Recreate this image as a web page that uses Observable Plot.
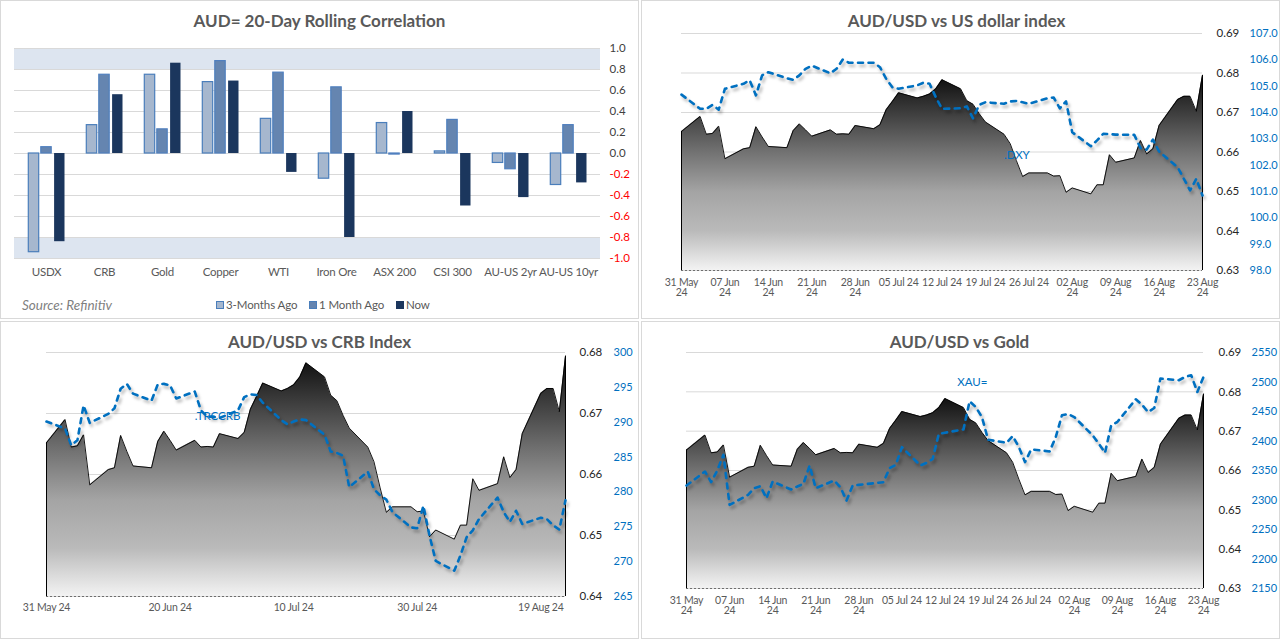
<!DOCTYPE html>
<html>
<head>
<meta charset="utf-8">
<script src="https://cdn.jsdelivr.net/npm/d3@7"></script>
<script src="https://cdn.jsdelivr.net/npm/@observablehq/plot@0.6"></script>
<style>
  body { margin: 0; background: #fff; font-family: Lato, "Open Sans", sans-serif; }
  .panel { position: absolute; border: 1px solid #d9d9d9; box-sizing: border-box; background: #fff; overflow: hidden; }
  .panel svg { position: absolute; left: -1px; top: -1px; max-width: none !important; background: transparent !important; }
  .title { position: absolute; top: 9px; width: 639px; text-align: center; font-weight: 700; font-size: 17px; line-height: 22px; color: #595959; white-space: nowrap; }
  .legend { position: absolute; top: 296px; font-size: 11.5px; color: #595959; line-height: 16px; white-space: nowrap; letter-spacing: -0.1px; }
  .sw { position: absolute; top: 4px; width: 8px; height: 8px; box-sizing: border-box; }
  .source { position: absolute; left: 21px; top: 295px; font-style: italic; font-size: 13.5px; color: #7f7f7f; line-height: 18px; }
  g[aria-label="x-axis tick label"] { letter-spacing: -0.25px; }
</style>
</head>
<body>
<div id="p1" class="panel" style="left:0;top:0;width:639px;height:319px">
  <div class="title" style="left:-1px">AUD= 20-Day Rolling Correlation</div>
  <div class="source">Source: Refinitiv</div>
  <div class="legend" style="left:0;width:639px">
    <span class="sw" style="left:215px;background:#a6b7ce;border:1px solid #4a7ebb"></span><span style="position:absolute;left:225px">3-Months Ago</span>
    <span class="sw" style="left:308px;background:#6585b0;border:1px solid #4a7ebb"></span><span style="position:absolute;left:318px">1 Month Ago</span>
    <span class="sw" style="left:395px;background:#1b365d"></span><span style="position:absolute;left:405px">Now</span>
  </div>
</div>
<div id="p2" class="panel" style="left:641px;top:0;width:639px;height:319px">
  <div class="title" style="left:-5px">AUD/USD vs US dollar index</div>
</div>
<div id="p3" class="panel" style="left:0;top:321px;width:639px;height:318px">
  <div class="title" style="left:-1px">AUD/USD vs CRB Index</div>
</div>
<div id="p4" class="panel" style="left:641px;top:321px;width:639px;height:318px">
  <div class="title" style="left:-2px">AUD/USD vs Gold</div>
</div>
<script>
// ---------------- Bar chart data ----------------
const categories = ["USDX","CRB","Gold","Copper","WTI","Iron Ore","ASX 200","CSI 300","AU-US 2yr","AU-US 10yr"];
const threeMonthsAgo = [-0.94, 0.27, 0.75, 0.68, 0.33, -0.24, 0.29, 0.02, -0.09, -0.30];
const oneMonthAgo    = [ 0.06, 0.75, 0.23, 0.88, 0.77,  0.63, -0.01, 0.32, -0.15, 0.27];
const nowCorr        = [-0.84, 0.56, 0.86, 0.69, -0.18, -0.80, 0.40, -0.50, -0.42, -0.28];
const corrTicks = [-1.0,-0.8,-0.6,-0.4,-0.2,0.0,0.2,0.4,0.6,0.8,1.0];
const corrBands = [[0.8, 1.0], [-1.0, -0.8]];

// ---------------- Time series data ----------------
const dates = [
 "2024-05-31",
 "2024-06-03","2024-06-04","2024-06-05","2024-06-06","2024-06-07",
 "2024-06-10","2024-06-11","2024-06-12","2024-06-13","2024-06-14",
 "2024-06-17","2024-06-18","2024-06-19","2024-06-20","2024-06-21",
 "2024-06-24","2024-06-25","2024-06-26","2024-06-27","2024-06-28",
 "2024-07-01","2024-07-02","2024-07-03","2024-07-04","2024-07-05",
 "2024-07-08","2024-07-09","2024-07-10","2024-07-11","2024-07-12",
 "2024-07-15","2024-07-16","2024-07-17","2024-07-18","2024-07-19",
 "2024-07-22","2024-07-23","2024-07-24","2024-07-25","2024-07-26",
 "2024-07-29","2024-07-30","2024-07-31","2024-08-01","2024-08-02",
 "2024-08-05","2024-08-06","2024-08-07","2024-08-08","2024-08-09",
 "2024-08-12","2024-08-13","2024-08-14","2024-08-15","2024-08-16",
 "2024-08-19","2024-08-20","2024-08-21","2024-08-22","2024-08-23"
];
const audusd = [
 0.6652,
 0.6690,0.6645,0.6647,0.6665,0.6583,
 0.6608,0.6611,0.6664,0.6638,0.6614,
 0.6611,0.6654,0.6671,0.6656,0.6640,
 0.6656,0.6645,0.6646,0.6645,0.6667,
 0.6659,0.6669,0.6707,0.6728,0.6750,
 0.6737,0.6741,0.6747,0.6760,0.6783,
 0.6760,0.6730,0.6721,0.6697,0.6676,
 0.6645,0.6621,0.6578,0.6538,0.6547,
 0.6547,0.6539,0.6540,0.6498,0.6509,
 0.6494,0.6517,0.6517,0.6593,0.6574,
 0.6585,0.6629,0.6595,0.6608,0.6667,
 0.6733,0.6741,0.6741,0.6703,0.6794
];
const dxy = [
 104.68,
 104.14,104.14,104.29,104.11,104.90,
 105.09,105.22,104.65,105.41,105.53,
 105.30,105.24,105.41,105.66,105.78,
 105.49,105.66,106.01,105.89,105.89,
 105.89,105.72,105.28,104.96,104.90,
 105.03,105.13,105.09,104.58,104.14,
 104.16,104.23,103.78,104.29,104.39,
 104.33,104.42,104.44,104.39,104.33,
 104.54,104.57,104.16,104.42,103.25,
 102.72,102.94,103.19,103.18,103.16,
 103.15,102.65,102.59,102.97,102.52,
 101.92,101.48,101.04,101.48,100.85
];
const crb = [
 290.1,
 289.1,286.7,287.4,292.4,289.9,
 291.2,292.0,294.8,295.5,294.1,
 293.1,295.4,295.5,295.3,293.4,
 294.4,291.7,290.8,290.8,290.6,
 291.7,293.6,294.0,293.9,292.8,
 290.3,289.7,290.1,290.4,290.3,
 288.2,285.8,285.6,285.2,280.7,
 282.9,280.4,279.5,278.9,277.1,
 274.9,274.8,278.0,273.7,270.1,
 268.7,270.9,273.5,274.5,276.1,
 279.2,277.1,275.7,277.3,275.4,
 276.3,276.1,275.2,274.6,278.8
];
const gold = [
 2324.5,
 2348.3,2330.2,2350.0,2376.6,2291.6,
 2308.6,2320.0,2323.4,2303.0,2331.3,
 2317.7,2322.8,2327.3,2358.5,2320.0,
 2333.0,2321.7,2299.0,2324.5,2325.6,
 2329.0,2330.2,2354.0,2359.6,2389.6,
 2358.5,2363.0,2369.8,2412.3,2414.0,
 2419.7,2467.3,2457.6,2440.6,2402.1,
 2397.0,2408.4,2389.7,2364.2,2385.7,
 2382.3,2406.7,2443.5,2445.7,2440.6,
 2409.5,2395.3,2380.0,2426.5,2432.2,
 2470.7,2461.6,2449.1,2456.0,2505.8,
 2503.0,2508.6,2511.5,2483.1,2508.6
];

// axis ticks
const weeklyTicks = ["2024-05-31","2024-06-07","2024-06-14","2024-06-21","2024-06-28","2024-07-05","2024-07-12","2024-07-19","2024-07-26","2024-08-02","2024-08-09","2024-08-16","2024-08-23"];
const crbDateTicks = ["2024-05-31","2024-06-20","2024-07-10","2024-07-30","2024-08-19"];
const audTicksWide = [0.63,0.64,0.65,0.66,0.67,0.68,0.69];
const audTicksCrb = [0.64,0.65,0.66,0.67,0.68];
const dxyTicks = [98,99,100,101,102,103,104,105,106,107];
const crbTicks = [265,270,275,280,285,290,295,300];
const goldTicks = [2150,2200,2250,2300,2350,2400,2450,2500,2550];

// series labels (annotation anchors in data space)
const dxyLabel = {date: "2024-07-22", value: 0.6591, text: ".DXY"};
const crbLabel = {date: "2024-06-24", value: 0.6695, text: ".TRCCRB"};
const goldLabel = {date: "2024-07-14", value: 0.6824, text: "XAU="};

const gradStops = [[0, "#0b0b0b"], [0.38, "#6e6e6e"], [0.6, "#a4a4a4"], [0.8, "#bababa"], [1, "#f3f3f3"]];
const BLUE = "#0070c0";
const baseStyle = {fontFamily: "Lato, 'Open Sans', sans-serif", fontSize: "11px", color: "#404040", background: "transparent", overflow: "visible"};

// ---------------- Bar chart ----------------
function rowsOf(series) { return categories.map((c, i) => ({cat: c, v: series[i]})); }
const bar = Plot.plot({
  width: 639, height: 292,
  marginLeft: 14, marginRight: 39, marginTop: 48, marginBottom: 34,
  style: baseStyle,
  x: {type: "band", domain: categories, padding: 0},
  y: {domain: [-1, 1]},
  marks: [
    Plot.rectY(corrBands, {y1: d => d[0], y2: d => d[1], fill: "#dde5f0"}),
    Plot.gridY({ticks: corrTicks, stroke: "#d9d9d9", strokeOpacity: 1}),
    Plot.barY(rowsOf(threeMonthsAgo), {x: "cat", y: "v", fill: "#a6b7ce", stroke: "#4a7ebb", strokeWidth: 1.2, insetLeft: 11.3, insetRight: 36.3}),
    Plot.barY(rowsOf(oneMonthAgo), {x: "cat", y: "v", fill: "#6585b0", stroke: "#4f7fbf", strokeWidth: 1.2, insetLeft: 23.8, insetRight: 23.8}),
    Plot.barY(rowsOf(nowCorr), {x: "cat", y: "v", fill: "#1b365d", insetLeft: 37.1, insetRight: 10.5}),
    Plot.axisY({ticks: corrTicks.filter(t => t >= 0), anchor: "right", tickSize: 0, tickPadding: 9, tickFormat: d => d.toFixed(1), color: "#404040", fontSize: 11.5, label: null}),
    Plot.axisY({ticks: corrTicks.filter(t => t < 0), anchor: "right", tickSize: 0, tickPadding: 9, tickFormat: d => d.toFixed(1), color: "#ff0000", fontSize: 11.5, label: null}),
    Plot.axisX({tickSize: 0, tickPadding: 9, color: "#595959", fontSize: 11.5, label: null})
  ]
});
document.getElementById("p1").appendChild(bar);

// ---------------- Line panels ----------------
function gradientDef(id) {
  return () => {
    const ns = "http://www.w3.org/2000/svg";
    const defs = document.createElementNS(ns, "defs");
    const g = document.createElementNS(ns, "linearGradient");
    g.setAttribute("id", id);
    g.setAttribute("x1", "0"); g.setAttribute("y1", "0");
    g.setAttribute("x2", "0"); g.setAttribute("y2", "1");
    for (const [o, c] of gradStops) {
      const s = document.createElementNS(ns, "stop");
      s.setAttribute("offset", o); s.setAttribute("stop-color", c);
      g.appendChild(s);
    }
    defs.appendChild(g);
    return defs;
  };
}
const fDM = d3.utcFormat("%d %b"), fY = d3.utcFormat("%y"), fM = d3.utcFormat("%b");
const twoLine = d => fM(d) === "Jul" ? fDM(d) + " " + fY(d) : fDM(d) + "\n" + fY(d);
const oneLine = d => fDM(d) + " " + fY(d);

function linePanel(o) {
  const rows = dates.map((d, i) => ({date: new Date(d), aud: audusd[i], sec: o.sec[i]}));
  const toP = d3.scaleLinear().domain([o.secLo, o.secHi]).range([o.lo, o.hi]);
  const ends = [rows[0], rows[rows.length - 1]];
  const chart = Plot.plot({
    width: 639, height: o.H,
    marginLeft: o.mL, marginRight: o.mR, marginTop: o.mT, marginBottom: o.mB,
    style: baseStyle,
    x: {type: "utc", domain: [rows[0].date, rows[rows.length - 1].date]},
    y: {domain: [o.lo, o.hi]},
    marks: [
      gradientDef(o.gradId),
      Plot.gridY({ticks: o.audTicks, stroke: "#d9d9d9", strokeOpacity: 1}),
      Plot.areaY(rows, {x: "date", y1: o.lo, y2: "aud", fill: `url(#${o.gradId})`}),
      Plot.lineY(rows, {x: "date", y: "aud", stroke: "#000", strokeWidth: 0.9}),
      Plot.ruleX(ends, {x: "date", y1: o.lo, y2: "aud", stroke: "#000", strokeWidth: 1}),
      Plot.ruleY([o.lo], {stroke: "#6f6f6f", strokeDasharray: "2,2"}),
      Plot.lineY(rows, {x: "date", y: d => toP(d.sec), stroke: BLUE, strokeWidth: 2.6, strokeDasharray: "5,5.5", strokeLinecap: "round", strokeLinejoin: "round"}),
      Plot.text([o.label], {x: d => new Date(d.date), y: "value", text: "text", fill: BLUE, textAnchor: "start", fontSize: 11.5}),
      Plot.axisY({ticks: o.audTicks, anchor: "right", tickSize: 0, tickPadding: o.padA, tickFormat: d => d.toFixed(2), color: "#262626", fontSize: 11.5, label: null}),
      Plot.axisY({ticks: o.secTicks.map(t => toP(t)), anchor: "right", tickSize: 0, tickPadding: o.padS, tickFormat: v => o.secFmt(toP.invert(v)), color: BLUE, fontSize: 11, label: null}),
      Plot.axisX({ticks: o.xTicks.map(d => new Date(d)), tickSize: 0, tickPadding: o.padX, tickFormat: o.xFmt, color: "#595959", fontSize: 10.5, label: null})
    ]
  });
  chart.querySelectorAll("[stroke-dasharray]").forEach(el => {
    if (el.getAttribute("stroke") === BLUE) el.style.filter = "drop-shadow(2px 3px 1.5px rgba(0,0,0,0.28))";
  });
  document.getElementById(o.el).appendChild(chart);
}

linePanel({el: "p2", H: 310, mL: 40, mR: 78, mT: 33, mB: 40, lo: 0.63, hi: 0.69, audTicks: audTicksWide,
  sec: dxy, secLo: 98, secHi: 107, secTicks: dxyTicks, secFmt: v => v.toFixed(1),
  xTicks: weeklyTicks, xFmt: twoLine, gradId: "gradDxy", label: dxyLabel, padA: 14, padS: 47, padX: 8});

linePanel({el: "p3", H: 310, mL: 46, mR: 74, mT: 31, mB: 35, lo: 0.64, hi: 0.68, audTicks: audTicksCrb,
  sec: crb, secLo: 265, secHi: 300, secTicks: crbTicks, secFmt: v => String(Math.round(v)),
  xTicks: crbDateTicks, xFmt: oneLine, gradId: "gradCrb", label: crbLabel, padA: 14, padS: 48, padX: 7});

linePanel({el: "p4", H: 310, mL: 45, mR: 77, mT: 31, mB: 43, lo: 0.63, hi: 0.69, audTicks: audTicksWide,
  sec: gold, secLo: 2150, secHi: 2550, secTicks: goldTicks, secFmt: v => String(Math.round(v)),
  xTicks: weeklyTicks, xFmt: twoLine, gradId: "gradGold", label: goldLabel, padA: 15, padS: 48, padX: 8});
</script>
</body>
</html>
